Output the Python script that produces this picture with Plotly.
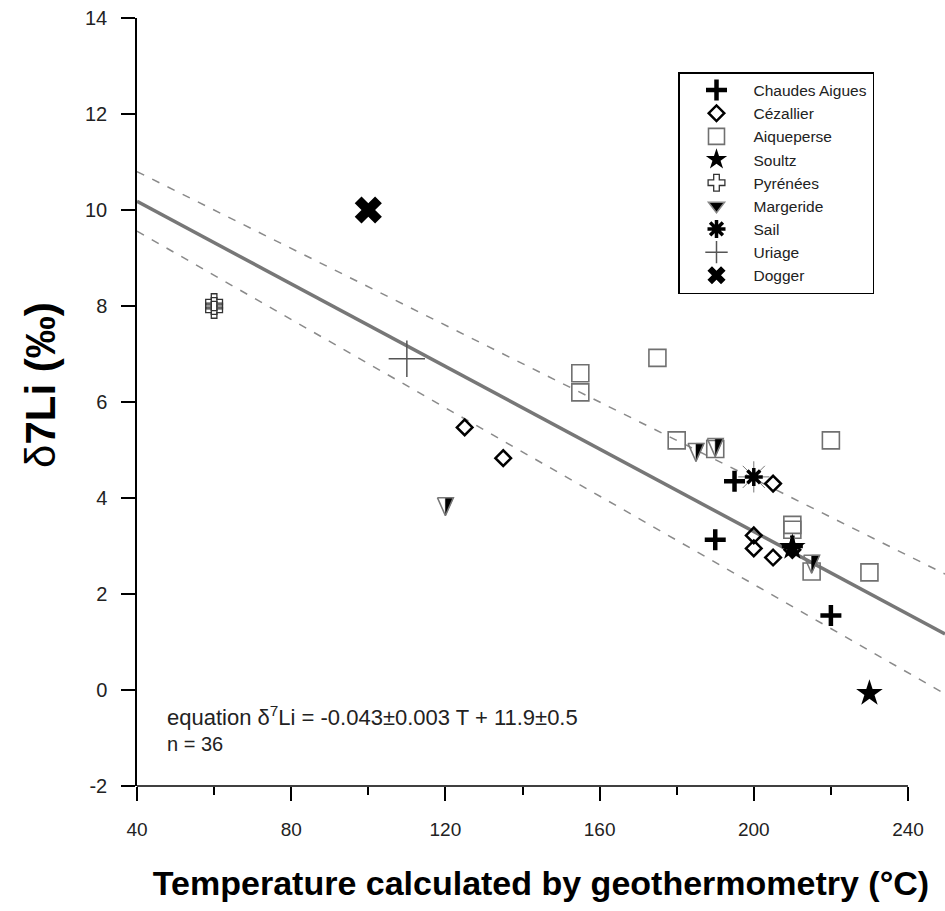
import plotly.graph_objects as go

# ---------------- data ----------------
chaudes_T = [195, 190, 220, 210]
chaudes_d = [4.35, 3.13, 1.55, 3.00]

cezallier_T = [125, 135, 205, 200, 200, 205, 210]
cezallier_d = [5.47, 4.83, 4.30, 3.22, 2.95, 2.76, 2.92]

aiqueperse_T = [155, 155, 175, 180, 190, 220, 210, 210, 215, 230]
aiqueperse_d = [6.60, 6.20, 6.92, 5.20, 5.02, 5.20, 3.44, 3.34, 2.47, 2.45]

soultz_T = [230, 210]
soultz_d = [-0.07, 2.97]

pyrenees_T = [60, 60, 60]
pyrenees_d = [7.92, 8.00, 8.08]

margeride_T = [120, 185, 190, 215]
margeride_d = [3.82, 4.95, 5.05, 2.62]

sail_T = [200]
sail_d = [4.44]

uriage_T = [110]
uriage_d = [6.90]

dogger_T = [100]
dogger_d = [10.0]

# regression: d7Li = slope*T + intercept (with +/- errors)
slope, slope_err = -0.043, 0.003
intercept, intercept_err = 11.9, 0.5

x_ticks = [40, 80, 120, 160, 200, 240]
x_minor_ticks = [60, 100, 140, 180, 220]
y_ticks = [-2, 0, 2, 4, 6, 8, 10, 12, 14]
y_tick_labels = ["-2", "0", "2", "4", "6", "8", "10", "12", "14"]

X_RANGE = [40, 249.6]
Y_RANGE = [-2, 14]

# ---------------- figure geometry ----------------
W, H = 945, 911
ML, MR, MT, MB = 137, 0, 18, 125
PW, PH = W - ML - MR, H - MT - MB
px_per_x = PW / (X_RANGE[1] - X_RANGE[0])
px_per_y = PH / (Y_RANGE[1] - Y_RANGE[0])

FONT = "Liberation Sans, Arial, sans-serif"
fig = go.Figure()

# regression lines
fit_x = X_RANGE
fig.add_trace(go.Scatter(
    x=fit_x, y=[slope * t + intercept for t in fit_x], mode="lines",
    line=dict(color="#777777", width=3.5), showlegend=False, hoverinfo="skip"))
fig.add_trace(go.Scatter(
    x=fit_x, y=[(slope + slope_err) * t + intercept + intercept_err for t in fit_x],
    mode="lines", line=dict(color="#8a8a8a", width=1.5, dash="8px,9px"),
    showlegend=False, hoverinfo="skip"))
fig.add_trace(go.Scatter(
    x=fit_x, y=[(slope - slope_err) * t + intercept - intercept_err for t in fit_x],
    mode="lines", line=dict(color="#8a8a8a", width=1.5, dash="8px,9px"),
    showlegend=False, hoverinfo="skip"))

# Margeride half-filled down triangles (built around each data point)
tri_w, tri_h = 16, 18
dxu = tri_w / 2 / px_per_x
dyu = tri_h / 2 / px_per_y
half_x, half_y, out_x, out_y = [], [], [], []
for t, d in zip(margeride_T, margeride_d):
    half_x += [t, t + dxu, t, t, None]
    half_y += [d + dyu, d + dyu, d - dyu, d + dyu, None]
    out_x += [t - dxu, t + dxu, t, t - dxu, None]
    out_y += [d + dyu, d + dyu, d - dyu, d + dyu, None]

# ---------------- legend-ordered series ----------------
fig.add_trace(go.Scatter(
    x=chaudes_T, y=chaudes_d, mode="markers", name="Chaudes Aigues", legendgroup="a",
    marker=dict(symbol="cross-thin-open", size=15, color="black",
                line=dict(color="black", width=4.5))))
fig.add_trace(go.Scatter(
    x=cezallier_T, y=cezallier_d, mode="markers", name="Cézallier", legendgroup="b",
    marker=dict(symbol="diamond-open", size=12, color="black", line=dict(color="black", width=2.5))))
fig.add_trace(go.Scatter(
    x=aiqueperse_T, y=aiqueperse_d, mode="markers", name="Aiqueperse", legendgroup="c",
    marker=dict(symbol="square-open", size=17, color="#707070", line=dict(color="#707070", width=1.6))))
fig.add_trace(go.Scatter(
    x=soultz_T, y=soultz_d, mode="markers", name="Soultz", legendgroup="d",
    marker=dict(symbol="star", size=20, color="black", line=dict(width=0))))
fig.add_trace(go.Scatter(
    x=pyrenees_T, y=pyrenees_d, mode="markers", name="Pyrénées", legendgroup="e",
    marker=dict(symbol="cross-open", size=14, color="#333333", line=dict(color="#333333", width=1.3))))
fig.add_trace(go.Scatter(
    x=half_x, y=half_y, mode="lines", fill="toself", fillcolor="black",
    line=dict(color="black", width=0.5), legendgroup="f", showlegend=False, hoverinfo="skip"))
fig.add_trace(go.Scatter(
    x=out_x, y=out_y, mode="lines", line=dict(color="#777777", width=1.5),
    legendgroup="f", showlegend=False, hoverinfo="skip"))
fig.add_trace(go.Scatter(
    x=[None], y=[None], mode="markers", name="Margeride", legendgroup="f",
    marker=dict(symbol="triangle-down", size=14, color="black", line=dict(color="#888888", width=1.5))))
fig.add_trace(go.Scatter(
    x=sail_T, y=sail_d, mode="markers", legendgroup="g", showlegend=False,
    marker=dict(symbol="asterisk-open", size=26, color="#777777",
                line=dict(color="#777777", width=1)),
    hoverinfo="skip"))
fig.add_trace(go.Scatter(
    x=sail_T, y=sail_d, mode="markers", name="Sail", legendgroup="g",
    marker=dict(symbol="asterisk-open", size=15, color="black",
                line=dict(color="black", width=3.5))))
fig.add_trace(go.Scatter(
    x=uriage_T, y=uriage_d, mode="markers", name="Uriage", legendgroup="h",
    marker=dict(symbol="cross-thin-open", size=26, color="#555555",
                line=dict(color="#555555", width=1.5))))
fig.add_trace(go.Scatter(
    x=dogger_T, y=dogger_d, mode="markers", name="Dogger", legendgroup="i",
    marker=dict(symbol="x", size=24, color="black", line=dict(width=0))))

# x axis line only from 40 to 240
fig.add_shape(type="line", xref="x", yref="paper", x0=x_ticks[0], x1=x_ticks[-1],
              y0=0, y1=0, line=dict(color="black", width=1.5))

fig.add_annotation(
    xref="x", yref="y", x=47.3, y=-0.55, xanchor="left", yanchor="middle",
    text="equation δ<sup>7</sup>Li = -0.043±0.003 T + 11.9±0.5",
    showarrow=False, font=dict(family=FONT, size=22, color="#222222"))
fig.add_annotation(
    xref="x", yref="y", x=47.3, y=-1.13, xanchor="left", yanchor="middle",
    text="n = 36", showarrow=False, font=dict(family=FONT, size=20, color="#222222"))

# y-axis title
fig.add_annotation(
    xref="paper", yref="paper", x=(40 - ML) / PW, y=(MT + PH - 385) / PH,
    xanchor="center", yanchor="middle", textangle=-90,
    text="δ<b>7Li (‰)</b>", showarrow=False,
    font=dict(family=FONT, size=42, color="black"))

fig.update_layout(
    width=W, height=H,
    margin=dict(l=ML, r=MR, t=MT, b=MB, pad=0),
    paper_bgcolor="white", plot_bgcolor="white",
    font=dict(family=FONT, color="#222222"),
    legend=dict(
        x=(678 - ML) / PW, y=(MT + PH - 72) / PH,
        xanchor="left", yanchor="top",
        bgcolor="white", bordercolor="black", borderwidth=1.5,
        font=dict(family=FONT, size=15.5, color="#222222"),
        itemwidth=64, tracegroupgap=0, traceorder="normal",
    ),
    xaxis=dict(
        range=X_RANGE, tickmode="array", tickvals=x_ticks,
        ticks="outside", ticklen=14, tickwidth=1.5, tickcolor="black",
        minor=dict(tickmode="array", tickvals=x_minor_ticks,
                   ticks="outside", ticklen=8, tickwidth=1.5, tickcolor="black"),
        showline=False, showgrid=False, zeroline=False,
        tickfont=dict(family=FONT, size=19, color="#222222"),
        ticklabelstandoff=12,
        title=dict(text="<b>Temperature calculated by geothermometry (°C)</b>",
                   font=dict(family=FONT, size=34, color="black"), standoff=32),
    ),
    yaxis=dict(
        range=Y_RANGE, tickmode="array", tickvals=y_ticks, ticktext=y_tick_labels,
        ticks="outside", ticklen=14, tickwidth=1.5, tickcolor="black",
        showline=True, linecolor="black", linewidth=1.5,
        showgrid=False, zeroline=False,
        tickfont=dict(family=FONT, size=20, color="#222222"),
        ticklabelstandoff=10,
    ),
)

fig.write_html("out.html")
